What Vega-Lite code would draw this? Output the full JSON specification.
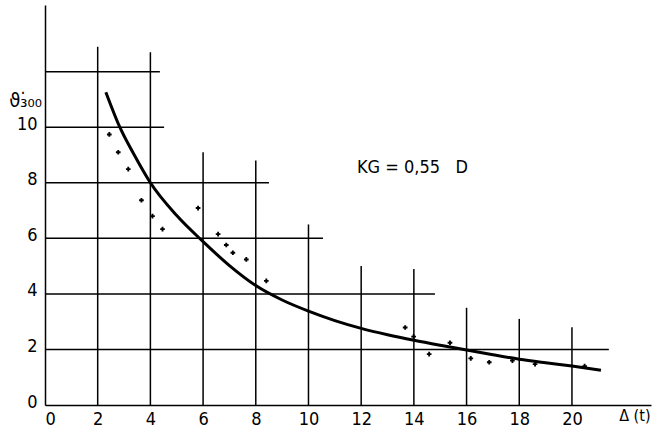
{
  "$schema": "https://vega.github.io/schema/vega-lite/v6.json",
  "width": 606,
  "height": 400,
  "autosize": {"type": "none"},
  "padding": {"left": 45, "top": 5, "right": 1, "bottom": 30},
  "background": "white",
  "config": {"view": {"stroke": null}, "font": "DejaVu Sans Condensed"},
  "datasets": {
    "vgrid": [
      {"x": 2, "top": 12.9}, {"x": 4, "top": 12.7}, {"x": 6, "top": 9.1}, {"x": 8, "top": 8.8},
      {"x": 10, "top": 6.5}, {"x": 12, "top": 5.0}, {"x": 14, "top": 4.9}, {"x": 16, "top": 3.5},
      {"x": 18, "top": 3.1}, {"x": 20, "top": 2.8}
    ],
    "hgrid": [
      {"y": 12, "right": 4.36}, {"y": 10, "right": 4.52}, {"y": 8, "right": 8.5},
      {"y": 6, "right": 10.55}, {"y": 4, "right": 14.8}, {"y": 2, "right": 21.4}
    ],
    "curve": [
      {"t": 2.31, "v": 11.26}, {"t": 2.84, "v": 10.0}, {"t": 3.4, "v": 8.98}, {"t": 4.0, "v": 8.0},
      {"t": 5.0, "v": 6.82}, {"t": 6.0, "v": 5.88}, {"t": 7.0, "v": 5.02}, {"t": 8.0, "v": 4.3},
      {"t": 9.0, "v": 3.78}, {"t": 10.0, "v": 3.38}, {"t": 11.0, "v": 3.04}, {"t": 12.0, "v": 2.76},
      {"t": 13.0, "v": 2.53}, {"t": 14.0, "v": 2.33}, {"t": 15.0, "v": 2.15}, {"t": 16.0, "v": 1.98},
      {"t": 17.0, "v": 1.81}, {"t": 18.0, "v": 1.65}, {"t": 19.0, "v": 1.52}, {"t": 20.0, "v": 1.4},
      {"t": 21.1, "v": 1.25}
    ],
    "obs": [
      {"t": 2.44, "v": 9.74}, {"t": 2.78, "v": 9.1}, {"t": 3.16, "v": 8.49}, {"t": 3.66, "v": 7.37},
      {"t": 4.08, "v": 6.8}, {"t": 4.46, "v": 6.33}, {"t": 5.81, "v": 7.09}, {"t": 6.57, "v": 6.15},
      {"t": 6.88, "v": 5.76}, {"t": 7.13, "v": 5.48}, {"t": 7.64, "v": 5.24}, {"t": 8.4, "v": 4.47},
      {"t": 13.67, "v": 2.79}, {"t": 13.99, "v": 2.46}, {"t": 14.58, "v": 1.83}, {"t": 15.37, "v": 2.24},
      {"t": 16.16, "v": 1.68}, {"t": 16.86, "v": 1.54}, {"t": 17.74, "v": 1.6}, {"t": 18.6, "v": 1.47},
      {"t": 20.48, "v": 1.4}
    ]
  },
  "layer": [
    {
      "data": {"name": "vgrid"},
      "mark": {"type": "rule", "color": "black", "strokeWidth": 1.5},
      "encoding": {
        "x": {
          "field": "x", "type": "quantitative",
          "scale": {"domain": [0, 23], "nice": false, "zero": true},
          "axis": {
            "values": [0, 2, 4, 6, 8, 10, 12, 14, 16, 18, 20],
            "grid": false, "tickSize": 0, "labelPadding": 5,
            "labelFontSize": 18, "labelColor": "black", "labelFont": "DejaVu Sans Condensed",
            "domainColor": "black", "domainWidth": 1.5,
            "title": "Δ (t)", "titleX": 605, "titleY": 2, "titleAlign": "right", "titleAnchor": "end",
            "titleBaseline": "top", "titleFontSize": 16, "titleFontWeight": "normal", "titleColor": "black",
            "titleFont": "DejaVu Sans Condensed"
          }
        },
        "y": {
          "field": "top", "type": "quantitative",
          "scale": {"domain": [0, 14.4], "nice": false, "zero": true},
          "axis": {
            "values": [0, 2, 4, 6, 8, 10],
            "grid": false, "tickSize": 0, "labelPadding": 8, "labelOffset": -3,
            "labelFontSize": 18, "labelColor": "black", "labelFont": "DejaVu Sans Condensed",
            "domainColor": "black", "domainWidth": 1.5,
            "title": "ϑ₃̇₀₀", "titleAngle": 0, "titleX": -20, "titleY": 95, "titleAlign": "center",
            "titleBaseline": "middle", "titleFontSize": 20, "titleFontWeight": "normal", "titleColor": "black",
            "titleFont": "DejaVu Sans Condensed"
          }
        },
        "y2": {"datum": 0}
      }
    },
    {
      "data": {"name": "hgrid"},
      "mark": {"type": "rule", "color": "black", "strokeWidth": 1.5},
      "encoding": {
        "y": {"field": "y", "type": "quantitative"},
        "x": {"field": "right", "type": "quantitative"},
        "x2": {"datum": 0}
      }
    },
    {
      "data": {"name": "curve"},
      "mark": {"type": "line", "color": "black", "strokeWidth": 3, "interpolate": "monotone"},
      "encoding": {
        "x": {"field": "t", "type": "quantitative"},
        "y": {"field": "v", "type": "quantitative"}
      }
    },
    {
      "data": {"name": "obs"},
      "mark": {"type": "point", "shape": "cross", "filled": true, "size": 22, "color": "black", "opacity": 1},
      "encoding": {
        "x": {"field": "t", "type": "quantitative"},
        "y": {"field": "v", "type": "quantitative"}
      }
    },
    {
      "data": {"values": [{"label": "KG = 0,55\u00a0\u00a0\u00a0D"}]},
      "mark": {"type": "text", "align": "left", "baseline": "middle", "fontSize": 18, "color": "black", "font": "DejaVu Sans Condensed"},
      "encoding": {
        "x": {"datum": 11.84, "type": "quantitative"},
        "y": {"datum": 8.52, "type": "quantitative"},
        "text": {"field": "label"}
      }
    }
  ]
}
